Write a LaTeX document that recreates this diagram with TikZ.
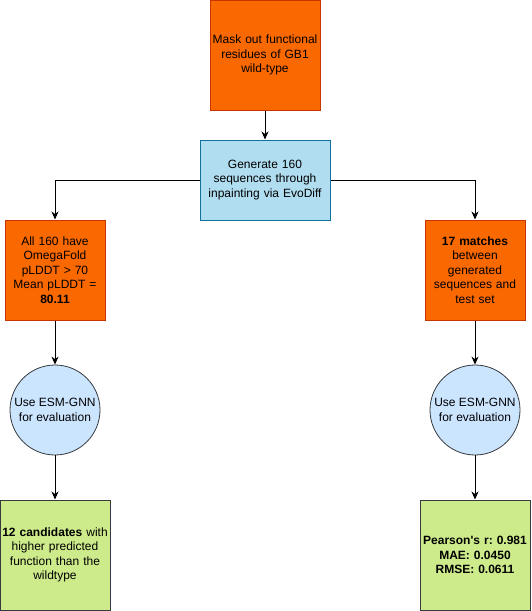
\documentclass[tikz,border=0pt]{standalone}
\usepackage{fontspec}
\setmainfont{Liberation Sans}
\usepackage{xcolor}
\usetikzlibrary{arrows.meta}
\frenchspacing

\definecolor{orfill}{HTML}{FA6800}
\definecolor{ordraw}{HTML}{C73500}
\definecolor{blfill}{HTML}{B1DDF0}
\definecolor{bldraw}{HTML}{10739E}
\definecolor{cifill}{HTML}{CCE5FF}
\definecolor{grfill}{HTML}{CDEB8B}
\definecolor{grdraw}{HTML}{36393D}

\begin{document}
\begin{tikzpicture}[x=1pt,y=-1pt,
  every node/.style={align=center,font=\fontsize{12}{14.4}\selectfont,inner sep=2pt},
  orbox/.style={draw=ordraw,fill=orfill,line width=1pt,minimum width=#1,minimum height=100pt,text width=#1-4pt},
  blbox/.style={draw=bldraw,fill=blfill,line width=1pt,minimum width=130pt,minimum height=80pt,text width=126pt},
  evalcirc/.style={circle,draw=grdraw,fill=cifill,line width=0.8pt,minimum size=90pt},
  grbox/.style={draw=grdraw,fill=grfill,line width=1pt,minimum width=110pt,minimum height=110pt,text width=106pt},
  arr/.style={-{Stealth[length=8pt,width=7pt,inset=2.5pt]},line width=1pt}]
\useasboundingbox (0,0) rectangle (531,611);
% top
\node[orbox=110pt,minimum height=110pt] (mask) at (265,55) {Mask out functional\\residues of GB1\\wild-type};
\node[blbox] (gen) at (265,180) {Generate 160\\sequences through\\inpainting via EvoDiff};
% left branch
\node[orbox=100pt] (plddt) at (55,270) {All 160 have\\OmegaFold\\pLDDT > 70\\Mean pLDDT =\\\textbf{80.11}};
\node[evalcirc] (evall) at (55,410) {Use ESM-GNN\\for evaluation};
\node[grbox] (cand) at (55,555) {\textbf{12 candidates} with\\higher predicted\\function than the\\wildtype};
% right branch
\node[orbox=100pt] (match) at (475,270) {\textbf{17 matches}\\between\\generated\\sequences and\\test set};
\node[evalcirc] (evalr) at (475,410) {Use ESM-GNN\\for evaluation};
\node[grbox] (stats) at (475,555) {\textbf{Pearson\textquotesingle s r: 0.981}\\\textbf{MAE: 0.0450}\\\textbf{RMSE: 0.0611}};
% connectors
\draw[arr] (mask) -- (gen);
\draw[arr] (gen.west) -| (plddt.north);
\draw[arr] (gen.east) -| (match.north);
\draw[arr] (plddt) -- (evall);
\draw[arr] (evall) -- (cand);
\draw[arr] (match) -- (evalr);
\draw[arr] (evalr) -- (stats);
\end{tikzpicture}
\end{document}
